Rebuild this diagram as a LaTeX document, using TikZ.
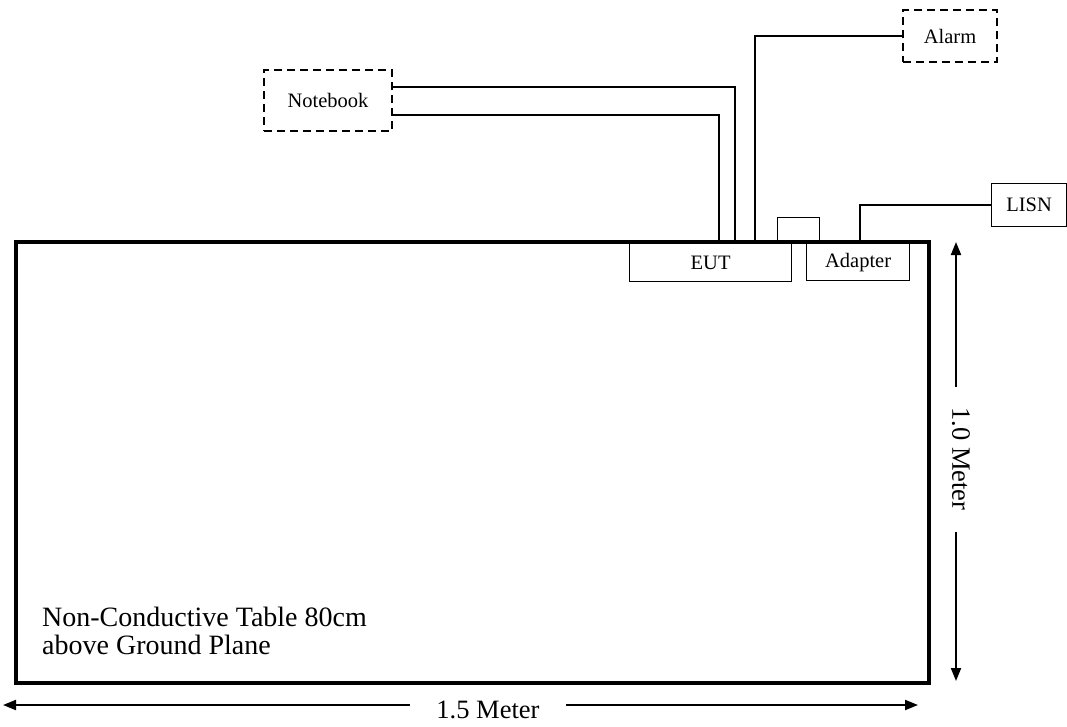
\documentclass[tikz,border=0pt]{standalone}
\usepackage{fontspec}
\setmainfont{Liberation Serif}
\usetikzlibrary{arrows.meta}
\begin{document}
\begin{tikzpicture}[x=1pt,y=-1pt,
  box/.style={draw, line width=1.2pt, inner sep=0pt, font=\fontsize{20.5}{24}\selectfont},
  dbox/.style={box, line width=2pt, dash pattern=on 8pt off 5pt},
  cable/.style={line width=1.3pt},
  dim/.style={line width=2pt, {Triangle[length=13pt,width=10pt]}-{Triangle[length=13pt,width=10pt]}},
  lbl/.style={fill=white, inner sep=0pt, font=\fontsize{26.5}{30}\selectfont}]
\useasboundingbox (0,0) rectangle (1067,726);
% table
\node[draw, line width=3.5pt, minimum width=913pt, minimum height=441pt, inner sep=0pt, anchor=north west] (table) at (14,240) {};
\node[anchor=south west, inner sep=0pt, align=left, font=\fontsize{28}{28}\selectfont] (tabletext) at (42,655) {Non-Conductive Table 80cm\\above Ground Plane};
% devices
\node[box, minimum width=162pt, minimum height=38pt, anchor=north west] (eut) at (629,243) {EUT};
\node[box, minimum width=103pt, minimum height=37pt, anchor=north west] (adapter) at (806,243) {Adapter};
\node[box, minimum width=42pt, minimum height=23pt, anchor=north west] (plug) at (777,217) {};
\node[box, minimum width=75pt, minimum height=43pt, anchor=north west] (lisn) at (991,183) {LISN};
\node[dbox, minimum width=94pt, minimum height=52pt, anchor=north west] (alarm) at (902,9) {Alarm};
\node[dbox, minimum width=128pt, minimum height=61pt, anchor=north west] (notebook) at (263,69) {Notebook};
% cable end points on the table edge
\coordinate (c1) at (735,240);
\coordinate (c2) at (719,240);
\coordinate (c3) at (755,240);
\coordinate (c4) at (860,240);
\draw[cable] ([yshift=13.5pt]notebook.east) -| (c1);
\draw[cable] ([yshift=-14.5pt]notebook.east) -| (c2);
\draw[cable] (alarm.west) -| (c3);
\draw[cable] (lisn.west) -| (c4);
% dimensions
\coordinate (v1) at (956,242);
\coordinate (v2) at (956,681);
\coordinate (h1) at (3,705);
\coordinate (h2) at (918,705);
\draw[dim] (v1) -- (v2);
\node[lbl, rotate=-90, minimum width=145pt] (vl) at (961,459) {1.0 Meter};
\draw[dim] (h1) -- (h2) node[lbl, pos=0.53, minimum width=156pt, yshift=-5pt] (hl) {1.5 Meter};
\end{tikzpicture}
\end{document}
